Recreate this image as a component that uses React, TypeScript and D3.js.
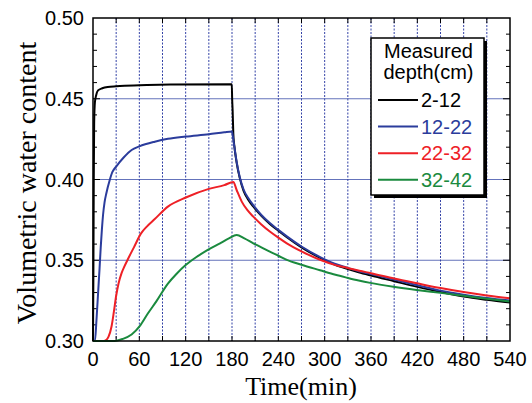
import React from "react";
import * as d3 from "d3";

const W = 532;
const H = 403;

const xTicks = [0, 60, 120, 180, 240, 300, 360, 420, 480, 540];
const yTicks = [0.3, 0.35, 0.4, 0.45, 0.5];
const depths = ["2-12", "12-22", "22-32", "32-42"];
const colors = ["#000000", "#2b3c9c", "#ee2026", "#1a8a3e"];

// [time(min), volumetric water content]
const d2_12: [number, number][] = [
  [0, 0.3], [0.5, 0.34], [1, 0.4], [1.5, 0.435], [2.5, 0.448], [4, 0.452], [6.5, 0.4552],
  [12, 0.4565], [19, 0.4573], [30, 0.4577], [41, 0.458], [70, 0.4585], [100, 0.4588],
  [179.7, 0.459], [180.2, 0.45], [180.8, 0.443], [181.7, 0.4285], [183, 0.421], [186, 0.4105],
  [190, 0.401], [195, 0.393], [201, 0.3875], [208, 0.383], [218, 0.3775], [229, 0.3725],
  [240, 0.3683], [251, 0.3643], [270, 0.358], [296, 0.351], [312, 0.3475], [328, 0.3448],
  [344, 0.3425], [360, 0.3405], [390, 0.337], [420, 0.3335], [450, 0.3303], [480, 0.3275],
  [510, 0.3255], [540, 0.3238],
];
const d12_22: [number, number][] = [
  [0, 0.3], [2.5, 0.3], [4.5, 0.313], [6.5, 0.329], [8.5, 0.345], [10, 0.358], [11.5, 0.369],
  [13, 0.378], [15, 0.386], [17.3, 0.3915], [21.6, 0.3995], [25, 0.4045], [30, 0.408],
  [40, 0.4138], [50, 0.4183], [60, 0.4205], [80, 0.4234], [97, 0.4252], [120, 0.4266],
  [150, 0.428], [170, 0.4292], [180, 0.4297], [181, 0.427], [183, 0.4205], [186, 0.411],
  [190, 0.4015], [195, 0.3938], [201, 0.3885], [208, 0.3838], [218, 0.378], [229, 0.373],
  [240, 0.3688], [251, 0.3648], [270, 0.3585], [296, 0.3515], [312, 0.348], [328, 0.3455],
  [344, 0.3432], [360, 0.3415], [390, 0.338], [420, 0.3345], [450, 0.3312], [480, 0.3287],
  [510, 0.3266], [540, 0.325],
];
const d22_32: [number, number][] = [
  [0, 0.3], [14, 0.3], [17, 0.3005], [20, 0.3025], [24, 0.309], [27, 0.318], [30, 0.328],
  [33, 0.3355], [37, 0.342], [41, 0.3465], [45, 0.3505], [53, 0.358], [62, 0.3665], [70, 0.371],
  [80, 0.3755], [97, 0.3832], [121, 0.389], [150, 0.3942], [170, 0.3965], [181.7, 0.3985],
  [186, 0.3935], [192.6, 0.3863], [200, 0.381], [207.6, 0.377], [218, 0.3722], [229, 0.3678],
  [240, 0.364], [251, 0.3605], [270, 0.3555], [294, 0.3503], [314, 0.347], [330, 0.3452],
  [345, 0.3435], [360, 0.342], [390, 0.3387], [420, 0.3357], [450, 0.3328], [480, 0.3303],
  [510, 0.3282], [540, 0.3265],
];
const d32_42: [number, number][] = [
  [0, 0.3], [28, 0.3], [38, 0.3012], [50, 0.304], [61, 0.3095], [71, 0.317], [82, 0.3245],
  [97, 0.3355], [108, 0.3415], [120, 0.347], [134, 0.352], [147, 0.356], [164.5, 0.3605],
  [176, 0.3635], [186, 0.3656], [196, 0.3635], [207.6, 0.3605], [218, 0.358], [229, 0.3553],
  [240, 0.3528], [251, 0.3502], [270, 0.3472], [294, 0.3438], [314, 0.341], [329, 0.3392],
  [344, 0.3375], [359, 0.336], [389, 0.3336], [419, 0.3316], [450, 0.3298], [480, 0.328],
  [510, 0.3262], [540, 0.3244],
];
const series = [d2_12, d12_22, d22_32, d32_42];

const m = { left: 93, right: 510, top: 18, bottom: 341 };

export default function App() {
  const x = d3.scaleLinear().domain([0, 540]).range([m.left, m.right]);
  const y = d3.scaleLinear().domain([0.3, 0.5]).range([m.bottom, m.top]);
  const line = d3
    .line<[number, number]>()
    .x((d) => x(d[0]))
    .y((d) => y(d[1]))
    .curve(d3.curveMonotoneX);

  const gridX = d3.range(30, 540, 30);
  const minorY = d3.range(31, 50).map((v) => v / 100);

  const lg = { x: 371, y: 38, w: 113, h: 157 };
  const sans = "'Liberation Sans', Arial, Helvetica, sans-serif";
  const serif = "'Liberation Serif', 'Times New Roman', Times, serif";

  return (
    <svg width={W} height={H} style={{ position: "absolute", left: 0, top: 0, background: "#fff" }}>
      {/* grid */}
      {yTicks.slice(1, -1).map((t) => (
        <line key={"gy" + t} x1={m.left} x2={m.right} y1={y(t)} y2={y(t)} stroke="#6473bb" strokeWidth={1} />
      ))}
      {gridX.map((t) => (
        <line key={"gx" + t} x1={x(t)} x2={x(t)} y1={m.top} y2={m.bottom} stroke="#3342a6" strokeWidth={1} strokeDasharray="2,1.5" />
      ))}

      {/* ticks */}
      {minorY.map((t) => {
        const major = Math.round(t * 100) % 5 === 0;
        const len = major ? 7 : 4;
        return (
          <g key={"my" + t}>
            <line x1={m.left} x2={m.left + len} y1={y(t)} y2={y(t)} stroke="#000" />
            <line x1={m.right} x2={m.right - len} y1={y(t)} y2={y(t)} stroke="#000" />
          </g>
        );
      })}
      {gridX.map((t) => (
        <g key={"tx" + t}>
          <line x1={x(t)} x2={x(t)} y1={m.bottom} y2={m.bottom - 5} stroke="#000" />
          <line x1={x(t)} x2={x(t)} y1={m.top} y2={m.top + 5} stroke="#000" />
        </g>
      ))}

      {/* series */}
      {series.map((s, i) => (
        <path key={depths[i]} d={line(s) || ""} fill="none" stroke={colors[i]} strokeWidth={2} />
      ))}

      {/* frame */}
      <rect x={m.left} y={m.top} width={m.right - m.left} height={m.bottom - m.top} fill="none" stroke="#000" strokeWidth={1.5} />

      {/* tick labels */}
      {yTicks.map((t) => (
        <text key={"ly" + t} x={84} y={y(t) + 7} textAnchor="end" fontFamily={sans} fontSize={20}>
          {t.toFixed(2)}
        </text>
      ))}
      {xTicks.map((t) => (
        <text key={"lx" + t} x={x(t)} y={366} textAnchor="middle" fontFamily={sans} fontSize={20}>
          {t}
        </text>
      ))}

      {/* axis titles */}
      <text x={301} y={395} textAnchor="middle" fontFamily={serif} fontSize={26}>
        Time(min)
      </text>
      <text transform="translate(36,183) rotate(-90)" textAnchor="middle" fontFamily={serif} fontSize={28}>
        Volumetric water content
      </text>

      {/* legend */}
      <rect x={lg.x + 3} y={lg.y + 3} width={lg.w} height={lg.h} fill="#000" />
      <rect x={lg.x} y={lg.y} width={lg.w} height={lg.h} fill="#fff" stroke="#000" strokeWidth={1.5} />
      <text x={lg.x + lg.w / 2 + 1} y={58} textAnchor="middle" fontFamily={sans} fontSize={20}>Measured</text>
      <text x={lg.x + lg.w / 2 + 1} y={79} textAnchor="middle" fontFamily={sans} fontSize={20}>depth(cm)</text>
      {depths.map((d, i) => {
        const ly = 100 + i * 26.6;
        return (
          <g key={"lg" + d}>
            <line x1={378} x2={418} y1={ly} y2={ly} stroke={colors[i]} strokeWidth={2} />
            <text x={421} y={ly + 7} fontFamily={sans} fontSize={20} fill={colors[i]}>{d}</text>
          </g>
        );
      })}
    </svg>
  );
}
